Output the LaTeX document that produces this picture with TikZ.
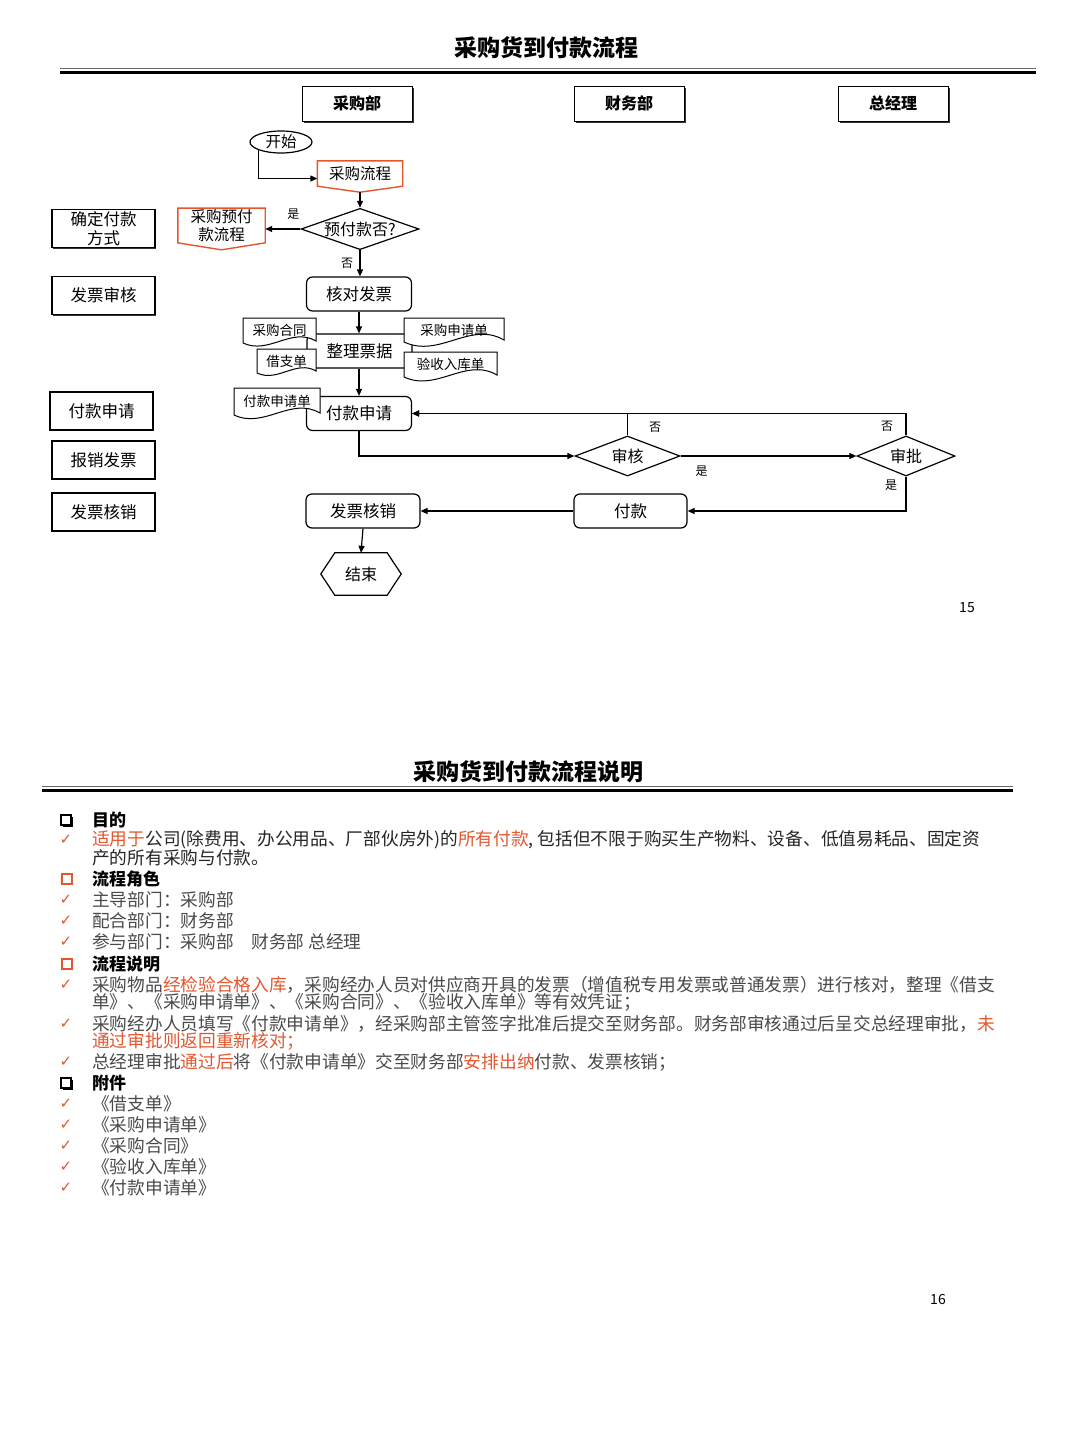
\documentclass[tikz,border=0pt]{standalone}
\usepackage{fontspec}
\setmainfont{Noto Sans CJK SC}
\newfontfamily\symfont{DejaVu Sans}
\usetikzlibrary{positioning, arrows.meta, shapes.geometric, shadows}

\definecolor{lineorange}{HTML}{E4572E}
\definecolor{textgray}{HTML}{4A4A4A}
\newcommand\hl[1]{\textcolor{lineorange}{#1}}
\newcommand\fsz[1]{\fontsize{#1}{#1}\selectfont}

% sheet with wavy bottom, outline first, label on top
\newcommand\paper[5]{%
  \filldraw[fill=white, line width=1pt, shift={(#2)}]
    (-#3/2,-#4/2) -- (-#3/2,#4/2) -- (#3/2,#4/2) -- (#3/2,-#4/2+2)
    to[out=150,in=-25] (-#3/2,-#4/2) -- cycle;
  \node[sheet, minimum width=#3pt, minimum height=#4pt] (#1) at (#2) {#5};}
% off-page connector outline
\newcommand\offpage[2]{%
  \draw[line width=1.4pt, lineorange] (#1.north west) -- (#1.north east) -- (#1.south east)
    -- ([yshift=-#2pt]#1.south) -- (#1.south west) -- cycle;}

\begin{document}
\begin{tikzpicture}[x=1pt, y=1pt,
    >={Triangle[length=7pt, width=6pt]},
    lane/.style={draw, line width=0.9pt, fill=white, minimum width=110pt, minimum height=35pt,
      font=\fsz{16}\bfseries,
      drop shadow={shadow xshift=1.5pt, shadow yshift=-1.5pt, opacity=1, fill=black!80}},
    role/.style={draw, line width=1.8pt, fill=white, minimum width=103pt, minimum height=38pt,
      align=center, inner sep=1pt, font=\fontsize{16.5}{19}\selectfont,
      drop shadow={shadow xshift=1pt, shadow yshift=-1pt, opacity=1, fill=black!80}},
    proc/.style={draw, rounded corners=6pt, line width=1.2pt, fill=white, minimum width=105pt,
      minimum height=34pt, font=\fsz{16.5}},
    decide/.style={draw, diamond, line width=1.2pt, fill=white, inner sep=0pt, aspect=2.7,
      font=\fsz{16}},
    offpg/.style={inner sep=1pt, align=center, font=\fontsize{15.5}{18}\selectfont},
    sheet/.style={inner sep=1pt, font=\fsz{13.5}},
    flow/.style={->, line width=1.2pt},
    yn/.style={font=\fsz{12}},
    body/.style={anchor=west, inner sep=0pt, text=textgray, font=\fsz{17.7}},
    head/.style={anchor=west, inner sep=0pt, font=\fsz{17}\bfseries},
    tick/.style={inner sep=0pt, text=lineorange, font=\symfont\fsz{15}},
    boxk/.style={draw, line width=1.1pt, fill=white, minimum size=10pt, inner sep=0pt,
      drop shadow={shadow xshift=1.6pt, shadow yshift=-1.6pt, opacity=1, fill=black}},
    boxo/.style={draw=lineorange, line width=2.4pt, minimum size=10pt, inner sep=0pt}
]
\useasboundingbox (0,0) rectangle (1080,-1440);
\fill[white] (0,0) rectangle (1080,-1440);

% page 15: flow chart
\node[font=\fsz{23}\bfseries] (title1) at (546,-48) {采购货到付款流程};
\draw[line width=1pt, black!60] (60,-68.5) -- (1036,-68.5);
\draw[line width=3.5pt] (60,-72.5) -- (1036,-72.5);

\node[lane] (cgb) at (357,-103.5) {采购部};
\node[lane] (cwb) at (629,-103.5) {财务部};
\node[lane] (zjl) at (893,-103.5) {总经理};

\node[role] (qdfk) at (103.5,-228.5) {确定付款\\方式};
\node[role] (fpsh) at (103.5,-295.5) {发票审核};
\node[role] (fksqr) at (101.5,-411) {付款申请};
\node[role] (bxfp) at (103.5,-460) {报销发票};
\node[role] (fphxr) at (103.5,-512) {发票核销};

\node[draw, ellipse, line width=1.2pt, minimum width=62pt, minimum height=22pt, inner sep=0pt,
  font=\fsz{15.5}] (ks) at (281,-142) {开始};
\node[offpg, minimum width=85pt, minimum height=25pt] (cglc) at (360,-173.5) {采购流程};
\offpage{cglc}{6}
\node[decide, minimum width=118pt, minimum height=40pt] (yfk) at (360,-229) {预付款否?};
\node[offpg, minimum width=87pt, minimum height=34pt] (cgyf) at (221.5,-225.5) {采购预付\\款流程};
\offpage{cgyf}{7}
\node[proc] (hdfp) at (359,-294) {核对发票};
\node[proc] (zlpj) at (359.5,-351) {整理票据};
\node[proc] (fksq) at (359,-413.5) {付款申请};
\node[decide, minimum width=105pt, minimum height=40pt] (shenhe) at (627.5,-456) {审核};
\node[decide, minimum width=98pt, minimum height=40pt] (shenpi) at (906,-456) {审批};
\node[proc, minimum width=113pt] (fukuan) at (630.5,-511) {付款};
\node[proc, minimum width=114pt] (fphx) at (363,-511) {发票核销};
\node[minimum width=52pt, minimum height=42pt, inner sep=0pt, font=\fsz{16}] (js) at (361,-574) {结束};
\draw[line width=1.2pt] (js.north west) -- (js.north east) -- ([xshift=14pt]js.east)
  -- (js.south east) -- (js.south west) -- ([xshift=-14pt]js.west) -- cycle;

\paper{cght}{279.5,-330.5}{73}{25}{采购合同}
\paper{jzd}{286.5,-361}{59}{24}{借支单}
\paper{cgsqd}{454,-330}{100}{24}{采购申请单}
\paper{ysrkd}{450.5,-364.5}{93}{25}{验收入库单}
\paper{fksqd}{277,-401.5}{86}{27}{付款申请单}

\draw[flow] (ks.south west) |- ([yshift=-5pt]cglc.west);
\draw[flow] ([yshift=-6pt]cglc.south) -- (yfk.north);
\draw[flow] (yfk.west) -- (yfk.west -| cgyf.east) node[yn, pos=0.2, above=6pt] (lb1) {是};
\draw[flow] (yfk.south) -- (yfk.south |- hdfp.north) node[yn, pos=0.5, left=3pt] (lb2) {否};
\draw[flow] (hdfp.south) -- (hdfp.south |- zlpj.north);
\draw[flow] (zlpj.south -| fksq.north) -- (fksq.north);
\draw[flow] (fksq.south) |- (shenhe.west);
\draw[flow] (shenhe.north) |- (fksq.east);
\node[yn] (lb3) at (655,-427) {否};
\draw[flow] (shenhe.east) -- (shenpi.west) node[yn, pos=0.12, below=6pt] (lb4) {是};
\draw[flow] (shenpi.north) |- (fksq.east);
\node[yn] (lb5) at (887,-426) {否};
\draw[flow] (shenpi.south) |- (fukuan.east);
\node[yn] (lb6) at (891,-485) {是};
\draw[flow] (fukuan.west) -- (fphx.east);
\draw[flow] (fphx.south) -- (js.north);

\node[font=\fsz{14}] (pg15) at (967,-608) {15};

% page 16: notes
\node[font=\fsz{23}\bfseries] (title2) at (528,-772) {采购货到付款流程说明};
\draw[line width=1pt, black!60] (42,-786.5) -- (1013,-786.5);
\draw[line width=3.5pt] (42,-790.5) -- (1013,-790.5);

\node[boxk] (sq1) at (66,-820) {};
\node[boxo] (sq2) at (67,-879) {};
\node[boxo] (sq3) at (67,-964) {};
\node[boxk] (sq4) at (66,-1083) {};
\foreach \y [count=\i] in {840,900,921,942,985,1024,1062,1104,1125,1146,1167,1188}
  \node[tick] (ck\i) at (66,-\y) {✓};

\node[head] (h1) at (92,-820) {目的};
\node[body, text=black!85] (t1) at (92,-840) {\hl{适用于}公司(除费用、办公用品、厂部伙房外)的\hl{所有付款}, 包括但不限于购买生产物料、设备、低值易耗品、固定资};
\node[body, text=black!85] (t2) at (92,-858) {产的所有采购与付款。};
\node[head] (h2) at (92,-879) {流程角色};
\node[body] (t3) at (92,-900) {主导部门：采购部};
\node[body] (t4) at (92,-921) {配合部门：财务部};
\node[body] (t5) at (92,-942) {参与部门：采购部\quad 财务部 总经理};
\node[head] (h3) at (92,-964) {流程说明};
\node[body] (t6) at (92,-985) {采购物品\hl{经检验合格入库}，采购经办人员对供应商开具的发票（增值税专用发票或普通发票）进行核对，整理《借支};
\node[body] (t7) at (92,-1002) {单》、《采购申请单》、《采购合同》、《验收入库单》等有效凭证；};
\node[body] (t8) at (92,-1024) {采购经办人员填写《付款申请单》，经采购部主管签字批准后提交至财务部。财务部审核通过后呈交总经理审批，\hl{未}};
\node[body] (t9) at (92,-1041) {\hl{通过审批则返回重新核对；}};
\node[body] (t10) at (92,-1062) {总经理审批\hl{通过后}将《付款申请单》交至财务部\hl{安排出纳}付款、发票核销；};
\node[head] (h4) at (92,-1083) {附件};
\node[body] (a1) at (92,-1104) {《借支单》};
\node[body] (a2) at (92,-1125) {《采购申请单》};
\node[body] (a3) at (92,-1146) {《采购合同》};
\node[body] (a4) at (92,-1167) {《验收入库单》};
\node[body] (a5) at (92,-1188) {《付款申请单》};

\node[font=\fsz{14}] (pg16) at (938,-1299) {16};
\end{tikzpicture}
\end{document}
